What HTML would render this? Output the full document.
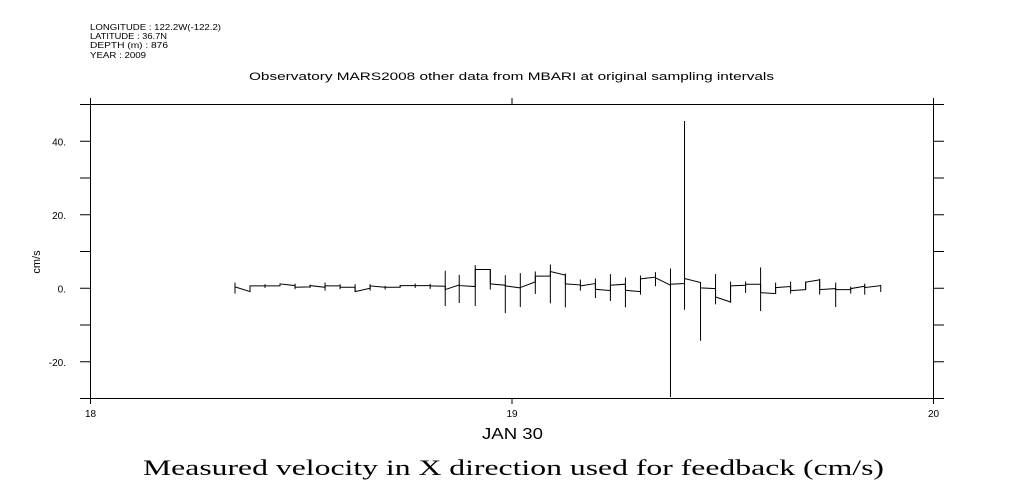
<!DOCTYPE html>
<html><head><meta charset="utf-8"><style>
body{margin:0;background:#fff;}
svg{display:block;font-family:"Liberation Sans",sans-serif;}
</style></head><body>
<svg id="chart" width="1009" height="504" viewBox="0 0 1009 504">
<g font-size="8" fill="#000">
<text x="90" y="30" textLength="131" lengthAdjust="spacingAndGlyphs">LONGITUDE : 122.2W(-122.2)</text>
<text x="90" y="39" textLength="77" lengthAdjust="spacingAndGlyphs">LATITUDE : 36.7N</text>
<text x="90" y="48" textLength="78" lengthAdjust="spacingAndGlyphs">DEPTH (m) : 876</text>
<text x="90" y="58" textLength="56" lengthAdjust="spacingAndGlyphs">YEAR : 2009</text>
</g>
<text x="249" y="80" font-size="11" textLength="525" lengthAdjust="spacingAndGlyphs">Observatory MARS2008 other data from MBARI at original sampling intervals</text>
<text x="0" y="0" font-size="11" text-anchor="middle" transform="translate(40,262) rotate(-90)">cm/s</text>
<text x="482" y="439" font-size="16" textLength="61" lengthAdjust="spacingAndGlyphs">JAN 30</text>
<text x="143" y="475" font-size="22" textLength="741" lengthAdjust="spacingAndGlyphs" font-family="Liberation Serif, serif">Measured velocity in X direction used for feedback (cm/s)</text>
<g id="axes"></g>
<g id="marks"></g>
</svg>
<script>
const times=[18.3428,18.3784,18.4140,18.4496,18.4853,18.5209,18.5565,18.5922,18.6278,18.6634,18.6990,18.7347,18.7703,18.8059,18.8416,18.8748,18.9128,18.9485,18.9841,19.0197,19.0553,19.0910,19.1266,19.1622,19.1979,19.2335,19.2691,19.3048,19.3404,19.3760,19.4093,19.4473,19.4829,19.5185,19.5542,19.5898,19.6254,19.6610,19.6967,19.7299,19.7679,19.8036,19.8368,19.8748];
const vIn=[0.37,-0.91,0.64,0.64,0.73,0.37,0.27,0.64,0.27,0.0,0.27,0.27,0.73,0.73,0.55,0.91,0.46,5.11,0.82,0.09,1.74,3.29,3.56,0.91,1.28,-0.64,1.10,-0.91,3.01,0.82,1.28,1.55,-0.09,-3.74,0.82,1.10,-1.46,0.46,-0.37,2.28,-0.09,-0.37,0.55,0.73];
const vOut=[0.37,0.64,0.64,1.19,0.27,0.73,0.64,0.27,-0.91,0.64,0.27,0.73,0.73,0.64,-0.37,0.73,5.11,1.19,0.64,0.18,3.29,4.57,1.19,0.64,-0.27,0.82,-0.55,2.56,2.83,1.10,2.65,0.09,-2.37,0.64,1.10,-1.19,0.18,-0.64,1.65,-0.37,-0.37,-0.09,0.18,0.73];
const vLo=[-1.46,-0.91,0.09,0.64,-0.27,0.09,-0.64,-0.27,-0.91,-0.64,-0.37,0.27,0.09,-0.18,-4.84,-4.02,-4.84,-0.37,-6.76,-5.11,-1.55,-4.11,-5.21,-0.64,-2.65,-3.47,-5.21,-1.74,0.55,-29.6,-5.84,-14.3,-4.38,-3.93,-1.28,-6.21,-1.46,-1.46,-0.37,-1.74,-5.11,-1.46,-1.74,-1.0];
const vHi=[1.55,0.64,1.10,1.19,1.28,1.00,1.55,1.10,1.10,1.10,0.64,0.91,1.28,1.19,4.75,3.65,6.30,5.11,3.56,4.11,4.57,6.48,4.02,2.37,2.65,3.84,2.92,3.47,4.38,5.39,45.5,1.55,3.84,1.83,1.83,5.66,1.55,1.83,1.83,2.56,1.55,0.46,1.28,0.91];
const yTicks=[-30,-20,-10,0,10,20,30,40,50];
const yLabels=[-20,0,20,40];
const xTicks=[18,19,20];

const X0=90.5,X1=933.5,Y0=398.5,Y1=104.5,XMIN=18,XMAX=20,YMIN=-30,YMAX=50;
const sx=t=>X0+(t-XMIN)/(XMAX-XMIN)*(X1-X0);
const sy=v=>Y0-(v-YMIN)/(YMAX-YMIN)*(Y0-Y1);
const NS="http://www.w3.org/2000/svg";
function mk(tag,attrs,parent){const e=document.createElementNS(NS,tag);for(const k in attrs)e.setAttribute(k,attrs[k]);parent.appendChild(e);return e;}
const axes=document.getElementById('axes'),marks=document.getElementById('marks');
let f=mk('path',{d:`M80 ${Y1}H944M80 ${Y0}H944M${X0} 100V${Y0}M${X1} 100V${Y0}`,stroke:'#000','stroke-width':1,fill:'none'},axes);


yTicks.forEach(v=>{const y=sy(v);
 const t=mk('path',{d:`M80 ${y}H${X0}M${X1} ${y}H944`,stroke:'#000'},axes);
 
 });
yLabels.forEach(v=>{const l=mk('text',{x:66,y:sy(v)+4,'font-size':10,'text-anchor':'end'},axes);l.textContent=(v<0?'-':'')+Math.abs(v)+'.';
 
 });
xTicks.forEach(v=>{const x=sx(v);
 const t=mk('path',{d:`M${x} ${Y0}V404M${x} ${Y1}V98`,stroke:'#000'},axes);
 
 
 const l=mk('text',{x:x,y:417,'font-size':10,'text-anchor':'middle'},axes);l.textContent=v;
 
 });
let d='';
times.forEach((t,i)=>{const x=sx(t);
 d+=(i===0?'M':'L')+x+' '+sy(vIn[i])+'L'+x+' '+sy(vOut[i]);});
const ln=mk('path',{d:d,stroke:'#000','stroke-width':1,fill:'none'},marks);


times.forEach((t,i)=>{const x=sx(t);
 const b=mk('line',{x1:x,x2:x,y1:sy(vLo[i]),y2:sy(vHi[i]),stroke:'#000','stroke-width':1},marks);
 
 });
</script>
</body></html>
